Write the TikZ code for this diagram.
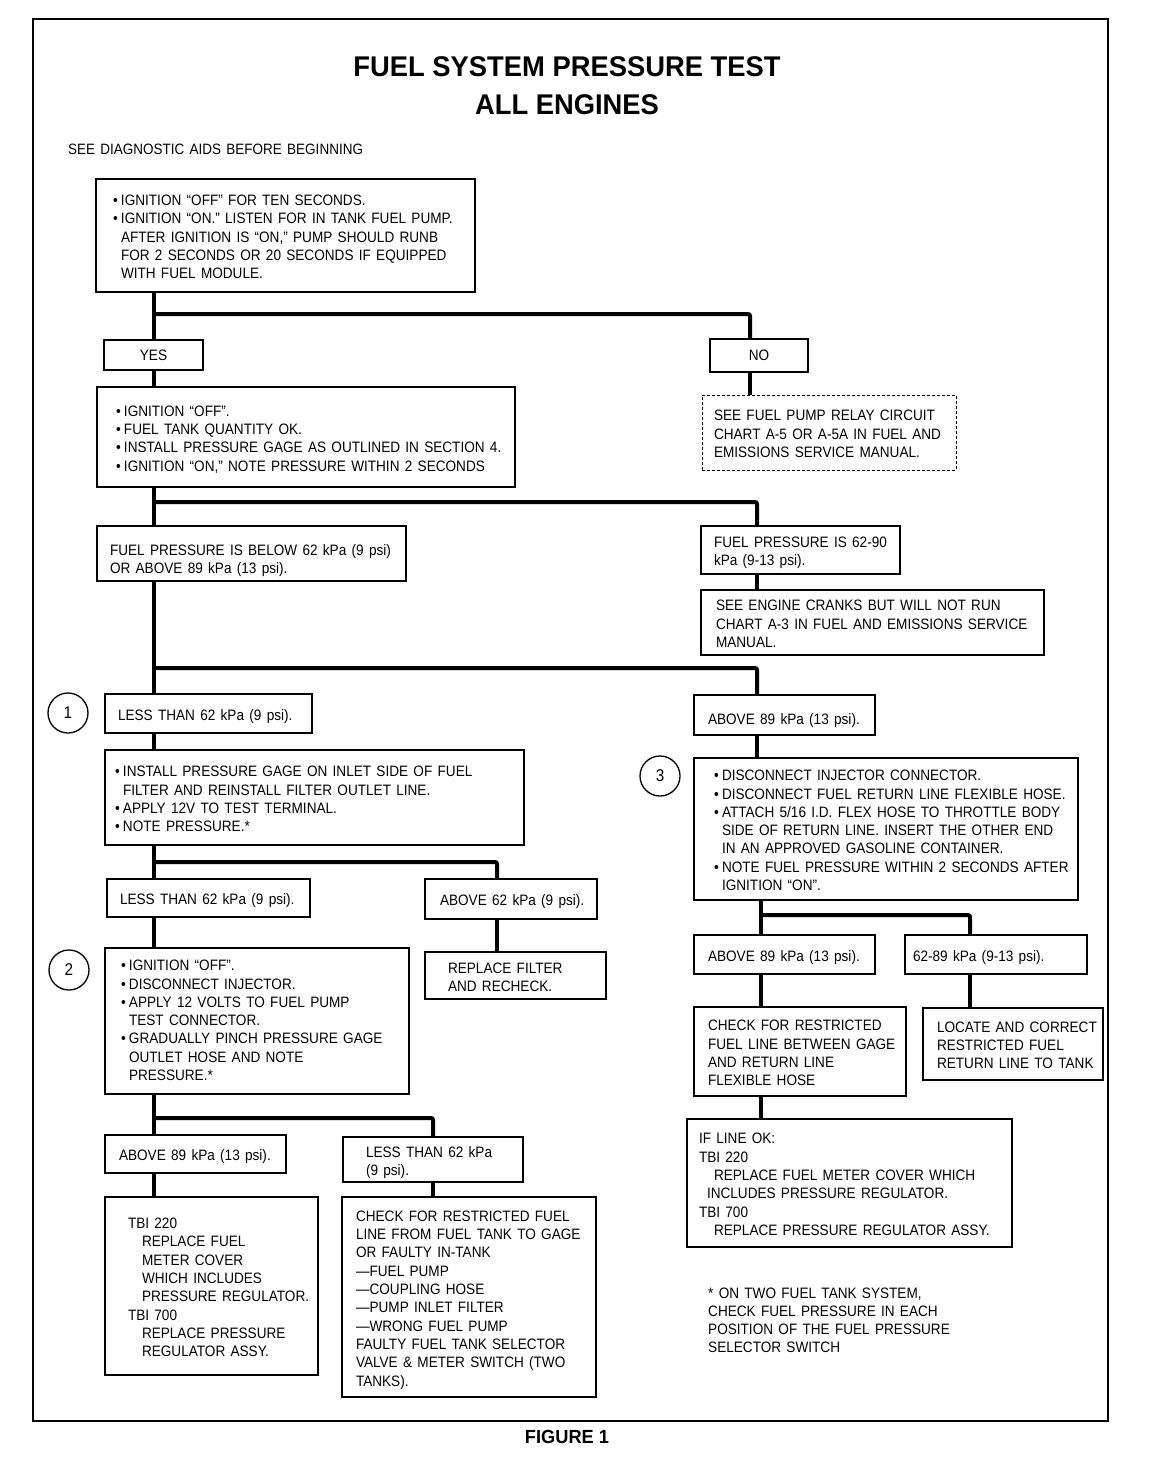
\documentclass[tikz,border=0pt]{standalone}
\usepackage{fontspec}
\setmainfont{Liberation Sans}[FakeStretch=0.9,WordSpace=1.4]
\newfontfamily\titlefont{Liberation Sans}[FakeStretch=0.96]
\newcommand\bodyfont{\fontsize{15.1}{18.3}\selectfont}
\newcommand\bul{\makebox[8pt][l]{•}}
\newcommand\myind{\hspace*{8pt}}
\def\txs{6}
\newcommand\mybox[8][]{%
  \pgfmathsetmacro\bxw{#5-#3}%
  \pgfmathsetmacro\bxh{#6-#4}%
  \pgfmathsetmacro\bxt{#5-#3-2*#7}%
  \node[boxst,#1,inner xsep=#7 pt,inner ysep=0pt]
    (#2) at ({(#3+#5)/2},{(#4+#6)/2})
    {\parbox[c][\bxh pt][c]{\bxt pt}{\vspace*{\txs pt}\noindent\begin{tabular}{@{}l@{}}#8\end{tabular}}};}
\begin{document}
\begin{tikzpicture}[x=1pt,y=-1pt,
  conn/.style={line width=4pt,rounded corners=2pt},
  boxst/.style={draw,line width=1.3pt,rectangle,font=\bodyfont},
  dashbox/.style={line width=1pt,dash pattern=on 3pt off 2pt},
  numc/.style={circle,draw,line width=1.3pt,minimum size=40pt,inner sep=0pt,font=\fontsize{17}{17}\selectfont},
  smallbox/.style={draw,line width=1.3pt,rectangle,font=\bodyfont,inner sep=0pt}]
\useasboundingbox (0,0) rectangle (1152,1472);
\draw[line width=1.5pt] (33,19) rectangle (1108,1421);

\node (t1) at (567,67) {\titlefont\bfseries\fontsize{28.5}{30}\selectfont FUEL SYSTEM PRESSURE TEST};
\node (t2) at (567,105) {\titlefont\bfseries\fontsize{28.5}{30}\selectfont ALL ENGINES};
\node[anchor=base west,inner sep=0pt] (aids) at (68,154) {\fontsize{15}{16}\selectfont SEE DIAGNOSTIC AIDS BEFORE BEGINNING};
\node (fig) at (567,1437) {\titlefont\bfseries\fontsize{19}{20}\selectfont FIGURE 1};

% boxes
\mybox{A}{96}{179}{475}{292}{17}{\bul IGNITION “OFF” FOR TEN SECONDS.\\ \bul IGNITION “ON.” LISTEN FOR IN TANK FUEL PUMP.\\ \myind AFTER IGNITION IS “ON,” PUMP SHOULD RUNB\\ \myind FOR 2 SECONDS OR 20 SECONDS IF EQUIPPED\\ \myind WITH FUEL MODULE.}
\node[smallbox,minimum width=99pt,minimum height=30pt] (YES) at (153.5,355) {YES};
\node[smallbox,minimum width=98pt,minimum height=33pt] (NO) at (759,355.5) {NO};
\mybox{B}{97}{387}{515}{487}{19}{\bul IGNITION “OFF”.\\ \bul FUEL TANK QUANTITY OK.\\ \bul INSTALL PRESSURE GAGE AS OUTLINED IN SECTION 4.\\ \bul IGNITION “ON,” NOTE PRESSURE WITHIN 2 SECONDS}
\mybox[dashbox]{C}{702}{395}{956}{470}{12}{SEE FUEL PUMP RELAY CIRCUIT\\ CHART A-5 OR A-5A IN FUEL AND\\ EMISSIONS SERVICE MANUAL.}
\def\txs{15}
\mybox{D}{97}{526}{406}{581}{13}{FUEL PRESSURE IS BELOW 62 kPa (9 psi)\\ OR ABOVE 89 kPa (13 psi).}
\def\txs{6}
\mybox{E}{701}{526}{900}{574}{13}{FUEL PRESSURE IS 62-90\\ kPa (9-13 psi).}
\mybox{F}{701}{590}{1044}{655}{15}{SEE ENGINE CRANKS BUT WILL NOT RUN\\ CHART A-3 IN FUEL AND EMISSIONS SERVICE\\ MANUAL.}
\mybox{G}{105}{694}{312}{733}{13}{LESS THAN 62 kPa (9 psi).}
\def\txs{12}
\mybox{H}{694}{695}{875}{735}{14}{ABOVE 89 kPa (13 psi).}
\def\txs{6}
\mybox{I}{105}{750}{524}{845}{10}{\bul INSTALL PRESSURE GAGE ON INLET SIDE OF FUEL\\ \myind FILTER AND REINSTALL FILTER OUTLET LINE.\\ \bul APPLY 12V TO TEST TERMINAL.\\ \bul NOTE PRESSURE.*}
\mybox{J}{107}{879}{310}{917}{13}{LESS THAN 62 kPa (9 psi).}
\mybox{K}{425}{879}{597}{919}{15}{ABOVE 62 kPa (9 psi).}
\mybox{Lb}{425}{952}{606}{999}{23}{REPLACE FILTER\\ AND RECHECK.}
\def\txs{2}
\mybox{M}{105}{948}{409}{1094}{16}{\bul IGNITION “OFF”.\\ \bul DISCONNECT INJECTOR.\\ \bul APPLY 12 VOLTS TO FUEL PUMP\\ \myind TEST CONNECTOR.\\ \bul GRADUALLY PINCH PRESSURE GAGE\\ \myind OUTLET HOSE AND NOTE\\ \myind PRESSURE.*}
\def\txs{6}
\mybox{N}{105}{1135}{286}{1173}{14}{ABOVE 89 kPa (13 psi).}
\mybox{O}{343}{1137}{523}{1182}{23}{LESS THAN 62 kPa\\ (9 psi).}
\mybox{P}{105}{1197}{318}{1375}{23}{TBI 220\\ \hspace*{14pt}REPLACE FUEL\\ \hspace*{14pt}METER COVER\\ \hspace*{14pt}WHICH INCLUDES\\ \hspace*{14pt}PRESSURE REGULATOR.\\ TBI 700\\ \hspace*{14pt}REPLACE PRESSURE\\ \hspace*{14pt}REGULATOR ASSY.}
\mybox{Q}{342}{1197}{596}{1397}{14}{CHECK FOR RESTRICTED FUEL\\ LINE FROM FUEL TANK TO GAGE\\ OR FAULTY IN-TANK\\ —FUEL PUMP\\ —COUPLING HOSE\\ —PUMP INLET FILTER\\ —WRONG FUEL PUMP\\ FAULTY FUEL TANK SELECTOR\\ VALVE \& METER SWITCH (TWO\\ TANKS).}
\mybox{R}{694}{758}{1078}{900}{20}{\bul DISCONNECT INJECTOR CONNECTOR.\\ \bul DISCONNECT FUEL RETURN LINE FLEXIBLE HOSE.\\ \bul ATTACH 5/16 I.D. FLEX HOSE TO THROTTLE BODY\\ \myind SIDE OF RETURN LINE. INSERT THE OTHER END\\ \myind IN AN APPROVED GASOLINE CONTAINER.\\ \bul NOTE FUEL PRESSURE WITHIN 2 SECONDS AFTER\\ \myind IGNITION “ON”.}
\mybox{S}{694}{935}{875}{974}{14}{ABOVE 89 kPa (13 psi).}
\mybox{T}{905}{935}{1087}{974}{8}{62-89 kPa (9-13 psi).}
\mybox{U}{694}{1007}{906}{1096}{14}{CHECK FOR RESTRICTED\\ FUEL LINE BETWEEN GAGE\\ AND RETURN LINE\\ FLEXIBLE HOSE}
\mybox{V}{923}{1008}{1103}{1080}{14}{LOCATE AND CORRECT\\ RESTRICTED FUEL\\ RETURN LINE TO TANK}
\mybox{W}{687}{1119}{1012}{1247}{12}{IF LINE OK:\\ TBI 220\\ \hspace*{15pt}REPLACE FUEL METER COVER WHICH\\ \hspace*{8pt}INCLUDES PRESSURE REGULATOR.\\ TBI 700\\ \hspace*{15pt}REPLACE PRESSURE REGULATOR ASSY.}
\node[anchor=north west,inner sep=0pt,font=\bodyfont] (note) at (708,1285) {\begin{tabular}{@{}l@{}}* ON TWO FUEL TANK SYSTEM,\\ CHECK FUEL PRESSURE IN EACH\\ POSITION OF THE FUEL PRESSURE\\ SELECTOR SWITCH\end{tabular}};

% step numbers
\node[numc] (c1) at (68,713) {1};
\node[numc] (c2) at (69,970) {2};
\node[numc] (c3) at (660,776) {3};

% junctions
\coordinate (j1) at (154,314); \coordinate (j1r) at (750,314);
\coordinate (j2) at (154,502); \coordinate (j2r) at (757,502);
\coordinate (j3) at (154,668); \coordinate (j3r) at (757,668);
\coordinate (j4) at (154,862); \coordinate (j4r) at (497,862);
\coordinate (j5) at (154,1118); \coordinate (j5r) at (433,1118);
\coordinate (j6) at (761,915); \coordinate (j6r) at (970,915);

% connectors
\draw[conn] (A.south -| j1) -- (YES.north -| j1);
\draw[conn] (j1) -- (j1r) -- (NO.north -| j1r);
\draw[conn] (NO.south -| j1r) -- (C.north -| j1r);
\draw[conn] (YES.south -| j1) -- (B.north -| j1);
\draw[conn] (B.south -| j2) -- (D.north -| j2);
\draw[conn] (j2) -- (j2r) -- (E.north -| j2r);
\draw[conn] (E.south -| j2r) -- (F.north -| j2r);
\draw[conn] (D.south -| j3) -- (G.north -| j3);
\draw[conn] (j3) -- (j3r) -- (H.north -| j3r);
\draw[conn] (G.south -| j3) -- (I.north -| j3);
\draw[conn] (I.south -| j4) -- (J.north -| j4);
\draw[conn] (j4) -- (j4r) -- (K.north -| j4r);
\draw[conn] (K.south -| j4r) -- (Lb.north -| j4r);
\draw[conn] (J.south -| j4) -- (M.north -| j4);
\draw[conn] (M.south -| j5) -- (N.north -| j5);
\draw[conn] (j5) -- (j5r) -- (O.north -| j5r);
\draw[conn] (N.south -| j5) -- (P.north -| j5);
\draw[conn] (O.south -| j5r) -- (Q.north -| j5r);
\draw[conn] (H.south -| j3r) -- (R.north -| j3r);
\draw[conn] (R.south -| j6) -- (S.north -| j6);
\draw[conn] (j6) -- (j6r) -- (T.north -| j6r);
\draw[conn] (S.south -| j6) -- (U.north -| j6);
\draw[conn] (T.south -| j6r) -- (V.north -| j6r);
\draw[conn] (U.south -| j6) -- (W.north -| j6);
\end{tikzpicture}
\end{document}
